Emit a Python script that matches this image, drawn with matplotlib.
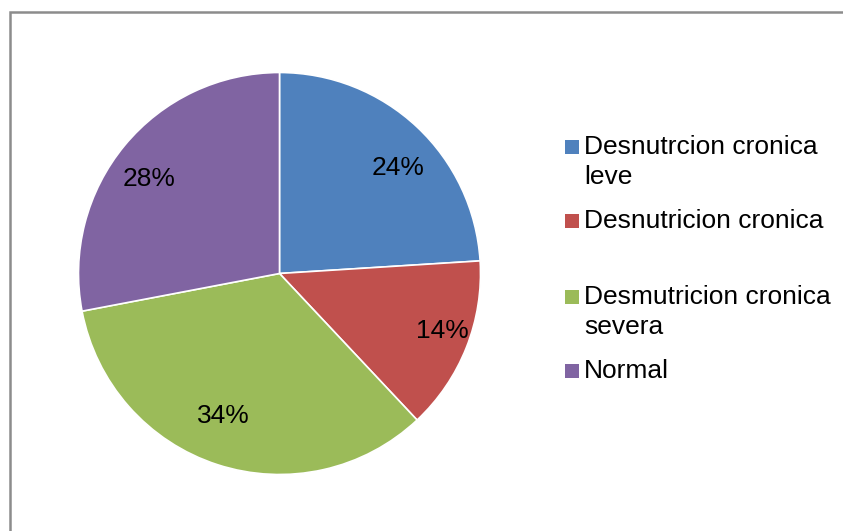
import matplotlib
matplotlib.use("Agg")
import numpy as np
import matplotlib.pyplot as plt
from matplotlib.patches import Rectangle

categories = ["Desnutrcion cronica\nleve", "Desnutricion cronica",
              "Desmutricion cronica\nsevera", "Normal"]
values = [24, 14, 34, 28]
colors = ["#4F81BD", "#C0504D", "#9BBB59", "#8064A2"]

plt.rcParams['font.family'] = ['Liberation Sans', 'DejaVu Sans']

W, H = 843, 531
fig = plt.figure(figsize=(W / 100, H / 100), dpi=100)

# outer border (gray frame, extends past right/bottom)
fig.patches.append(Rectangle((9.5 / W, -0.1), 2, 1 - 11.5 / H + 0.1,
                             transform=fig.transFigure, fill=False,
                             edgecolor="#8C8C8C", linewidth=1.8))

cx, cy, r = 279.5, 273.5, 201
ax = fig.add_axes([(cx - r) / W, (H - cy - r) / H, 2 * r / W, 2 * r / H])
wedges, texts, autotexts = ax.pie(
    values, colors=colors, startangle=90, counterclock=False,
    autopct=lambda p: f"{p:.0f}%", pctdistance=0.8,
    wedgeprops=dict(edgecolor="white", linewidth=1.2),
    textprops=dict(fontsize=19, color="black"))

# label placement tweaks (angle offset in degrees, radius fraction)
label_adjust = [(-5, 0.79), (2, 0.86), (-3.4, 0.76), (3.8, 0.80)]
for w, t, (da, rr) in zip(wedges, autotexts, label_adjust):
    ang = np.deg2rad((w.theta1 + w.theta2) / 2 + da)
    t.set_position((rr * np.cos(ang), rr * np.sin(ang)))

ax.set_xlim(-1, 1)
ax.set_ylim(-1, 1)
ax.set_aspect("equal")
ax.axis("off")

# legend drawn manually: marker beside first line of each entry
first_line_y = [147, 221, 297, 371]
line_step = 30
for lab, col, y in zip(categories, colors, first_line_y):
    nlines = lab.count("\n") + 1
    fig.patches.append(Rectangle((565 / W, (H - y - 7) / H), 14 / W, 14 / H,
                                 transform=fig.transFigure, facecolor=col,
                                 edgecolor="none"))
    yc = y + line_step * (nlines - 1) / 2
    fig.text(584 / W, (H - yc) / H, lab, fontsize=19, va="center", ha="left",
             linespacing=1.35)

fig.savefig("out.png", dpi=100)
